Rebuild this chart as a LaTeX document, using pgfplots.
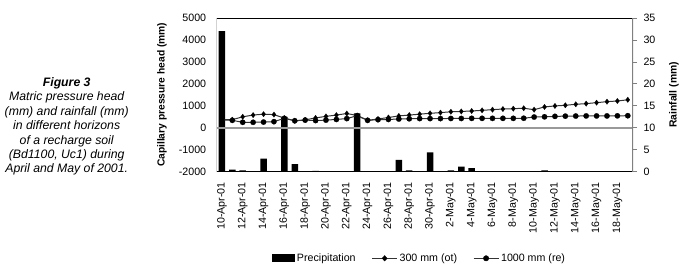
\documentclass[border=0pt]{standalone}
\usepackage{fontspec}
\setmainfont{Liberation Sans}
\usepackage{pgfplots}
\pgfplotsset{compat=1.18}
\usepackage{pgfplotstable}

\pgfplotstableread{
x rain ot re
0 32 370 360
1 0.5 370 340
2 0.3 500 250
3 0 580 250
4 3.0 620 260
5 0 600 280
6 12.5 440 430
7 1.7 320 320
8 0 360 350
9 0.2 450 330
10 0 520 350
11 0 580 380
12 0 650 420
13 13.3 560 550
14 0 340 340
15 0 400 370
16 0 470 380
17 2.7 540 400
18 0.3 580 410
19 0 620 420
20 4.4 660 420
21 0 690 420
22 0.3 730 425
23 1.15 745 425
24 0.8 765 430
25 0 795 430
26 0 825 430
27 0 855 430
28 0 870 430
29 0 890 435
30 0 825 490
31 0.3 950 500
32 0 995 520
33 0 1025 530
34 0 1070 535
35 0 1100 540
36 0 1145 540
37 0 1190 540
38 0 1220 545
39 0 1275 550
}\data

\pgfplotsset{base/.style={
  scale only axis, width=416.3bp, height=153.7bp,
  xmin=-0.5, xmax=39.5, enlargelimits=false,
  axis line style={draw=none},
  tick label style={font=\fontsize{10.7}{12}\selectfont},
  /pgf/number format/assume math mode=true,
  /pgf/number format/1000 sep={},
}}

\begin{document}
\begin{tikzpicture}
\useasboundingbox (-216.7bp,-97.3bp) rectangle (469.3bp,171.7bp);

\node[align=center, font=\fontsize{12.3}{14.4}\selectfont\itshape] at (-150bp,45.2bp)
 {\textbf{Figure 3}\\Matric pressure head\\(mm) and rainfall (mm)\\in different horizons\\of a recharge soil\\(Bd1100, Uc1) during\\April and May of 2001.};

% Rainfall axis (right)
\begin{axis}[base,
  ybar, bar width=6.5bp,
  ymin=0, ymax=35, ytick={0,5,...,35},
  ytick pos=right, yticklabel pos=right,
  tick align=outside, major tick length=4bp,
  every tick/.style={gray, line width=0.8bp},
  yticklabel style={xshift=3bp},
  xtick=\empty,
  ylabel={\textbf{Rainfall (mm)}},
  ylabel style={at={(axis description cs:1.0985,0.5)}, anchor=center, font=\fontsize{10.4}{12}\selectfont},
  legend style={at={(rel axis cs:0.4872,-0.5634)}, anchor=center, draw=none, fill=none,
    legend columns=3, font=\fontsize{10.7}{12}\selectfont,
    /tikz/every even column/.append style={column sep=14bp}},
]
\addplot[fill=black, draw=none,
  legend image code/.code={\fill[black] (0bp,-3.8bp) rectangle (23bp,3.8bp);}]
  table[x=x,y=rain]{\data};
\addlegendentry{Precipitation}
\addlegendimage{legend image code/.code={\draw[gray!40!black, line width=1bp] (0bp,0bp) -- (25bp,0bp); \fill[black] (12.5bp,0bp) +(0,2.7bp) -- +(2.5bp,0) -- +(0,-2.7bp) -- +(-2.5bp,0) -- cycle;}}
\addlegendentry{300 mm (ot)}
\addlegendimage{legend image code/.code={\draw[gray!40!black, line width=1bp] (0bp,0bp) -- (25bp,0bp); \fill[black] (12.5bp,0bp) circle (2.7bp);}}
\addlegendentry{1000 mm (re)}
\end{axis}

% Pressure head axis (left)
\begin{axis}[base,
  ymin=-2000, ymax=5000, ytick={-2000,-1000,...,5000},
  ytick pos=left, major tick length=0pt,
  yticklabel style={xshift=-7bp},
  xtick={0,2,...,38},
  xticklabels={10-Apr-01,12-Apr-01,14-Apr-01,16-Apr-01,18-Apr-01,20-Apr-01,22-Apr-01,24-Apr-01,26-Apr-01,28-Apr-01,30-Apr-01,2-May-01,4-May-01,6-May-01,8-May-01,10-May-01,12-May-01,14-May-01,16-May-01,18-May-01},
  xtick pos=bottom,
  xticklabel style={rotate=90, anchor=east, xshift=-7bp},
  ylabel={\textbf{Capillary pressure head (mm)}},
  ylabel style={at={(axis description cs:-0.1314,0.5)}, anchor=center, font=\fontsize{10.3}{12}\selectfont},
]
\draw[gray!80, line width=1.6bp] (axis cs:-0.5,0) -- (axis cs:39.5,0);
\addplot[gray!40!black, line width=1bp, mark=diamond*, mark size=2.7bp,
  mark options={fill=black, draw=black, line width=0.2bp}] table[x=x,y=ot]{\data};
\addplot[gray!40!black, line width=1bp, mark=*, mark size=2.7bp,
  mark options={fill=black, draw=black, line width=0.2bp}] table[x=x,y=re]{\data};
\draw[black, line width=0.7bp] (rel axis cs:0,1) -- (rel axis cs:1,1);
\draw[black, line width=0.7bp] (rel axis cs:0,0) -- (rel axis cs:1,0);
\draw[gray, line width=1.3bp] (rel axis cs:0,0) -- (rel axis cs:0,1);
\draw[gray, line width=1.3bp] (rel axis cs:1,0) -- (rel axis cs:1,1);
\end{axis}
\end{tikzpicture}
\end{document}
